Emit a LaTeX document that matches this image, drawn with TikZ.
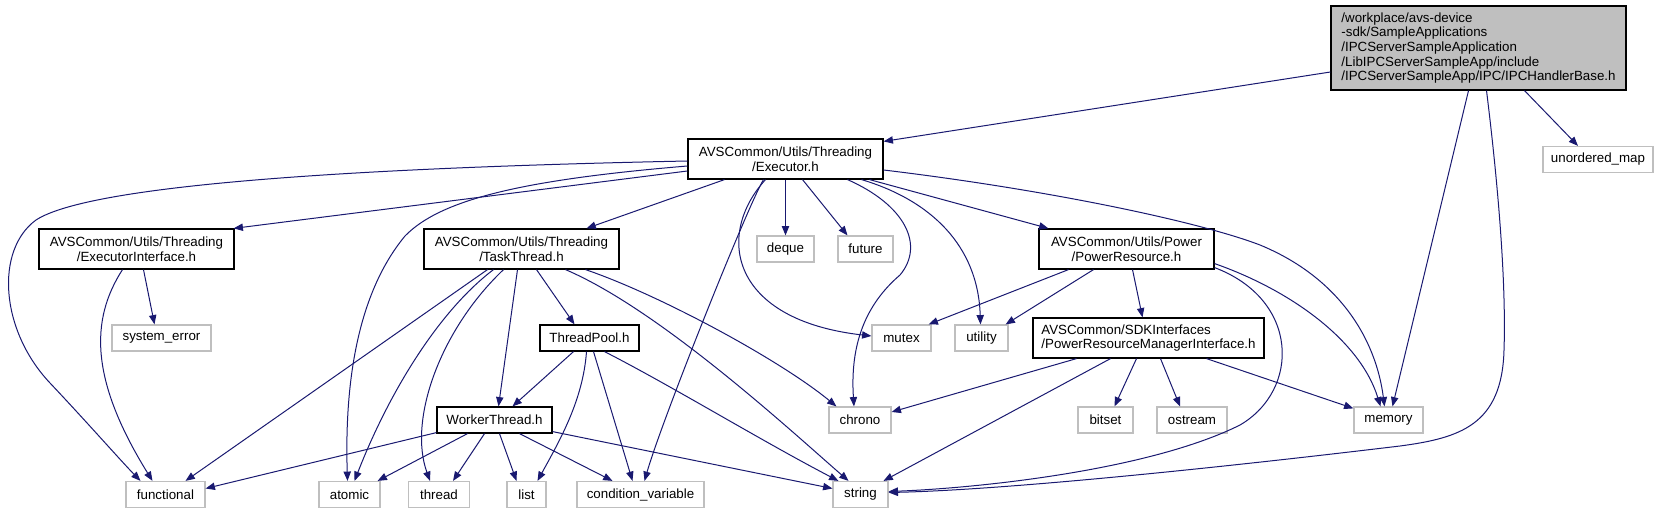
\documentclass[tikz,border=0pt]{standalone}
\usepackage{fontspec}
\setmainfont{Liberation Sans}
\usetikzlibrary{arrows.meta, calc}
\definecolor{edgeB}{RGB}{25,25,112}
\definecolor{boxG}{RGB}{191,191,191}

\begin{document}
\begin{tikzpicture}[x=0.75pt, y=-0.75pt,
  every node/.style={font=\fontsize{10}{11}\selectfont, inner sep=0pt},
  bw/.style={minimum width=#1*0.75pt},
  hdr/.style={draw=black, line width=0.9pt, fill=white, align=center, minimum height=30pt},
  sys/.style={draw=boxG, line width=0.9pt, fill=white, minimum height=19.5pt},
  dep/.style={draw=edgeB, line width=0.75pt, -{Triangle[length=7pt, width=5.5pt]}}]
\useasboundingbox (0,0) rectangle (1658,513);
% ===== project headers =====
\node[hdr, fill=boxG, align=left, bw=295, minimum height=63pt] (root) at (1478.5,48)
  {/workplace/avs-device\\-sdk/SampleApplications\\/IPCServerSampleApplication\\/LibIPCServerSampleApp/include\\/IPCServerSampleApp/IPC/IPCHandlerBase.h};
\node[hdr, bw=195] (exec) at (785.5,159) {AVSCommon/Utils/Threading\\/Executor.h};
\node[hdr, bw=195] (execif) at (136.5,249) {AVSCommon/Utils/Threading\\/ExecutorInterface.h};
\node[hdr, bw=195] (task) at (521.5,249) {AVSCommon/Utils/Threading\\/TaskThread.h};
\node[hdr, bw=175] (pwr) at (1126.5,249) {AVSCommon/Utils/Power\\/PowerResource.h};
\node[hdr, bw=99, minimum height=19.5pt] (tpool) at (589.5,338) {ThreadPool.h};
\node[hdr, bw=231, align=left] (pwrmgr) at (1148.5,338) {AVSCommon/SDKInterfaces\\/PowerResourceManagerInterface.h};
\node[hdr, bw=115, minimum height=19.5pt] (worker) at (494.5,420) {WorkerThread.h};
% ===== system headers (name/x/y/width/label) =====
\foreach \nm/\cx/\cy/\w/\txt in {umap/1598/159.5/110/unordered\_map, deque/785.5/249/57/deque,
  future/865.5/249/55/future, syserr/161.5/338/99/system\_error, mutex/901.5/338/59/mutex,
  utility/981.5/338/53/utility, chrono/860/420/62/chrono, bitset/1105.5/420/55/bitset,
  ostream/1192/420/70/ostream, memory/1388.5/420/69/memory, functional/165.5/494.5/79/functional,
  atomic/349.5/494.5/61/atomic, thread/439/494.5/61/thread, list/526.5/494.5/39/list,
  condvar/640.5/494.5/127/condition\_variable, string/860.5/494.5/55/string}{
  \node[sys, bw=\w] (\nm) at (\cx,\cy) {\txt};
}
% ===== from IPCHandlerBase.h =====
\draw[dep] ($(root.west)+(0,24)$) -- ($(exec.north east)+(0,3)$);
\draw[dep] ($(root.south)+(-10,0)$) -- ($(memory.north)+(4,0)$);
\draw[dep] ($(root.south)+(8,0)$) .. controls (1500,200) and (1506,290) .. (1504,350)
  .. controls (1502,425) and (1460,438) .. (1400,446)
  .. controls (1200,470) and (1000,490) .. ($(string.east)+(0,-2)$);
\draw[dep] ($(root.south)+(46,0)$) -- ($(umap.north)+(-20,0)$);
% ===== from Executor.h =====
\draw[dep] ($(exec.west)+(0,2)$) .. controls (350,168) and (90,185) .. (36,220)
  .. controls (-5,250) and (0,330) .. (50,383)
  .. controls (85,420) and (122,462) .. ($(functional.north)+(-25,0)$);
\draw[dep] ($(exec.west)+(0,12)$) -- ($(execif.north east)+(-1,0)$);
\draw[dep] ($(exec.west)+(0,7)$) .. controls (520,180) and (440,200) .. (405,236)
  .. controls (352,300) and (345,400) .. ($(atomic.north)+(-2,0)$);
\draw[dep] ($(exec.south)+(-61,0)$) -- ($(task.north)+(65,0)$);
\draw[dep] ($(exec.south)+(-22,0)$) .. controls (748,205) and (662,420) .. ($(condvar.north)+(4,0)$);
\draw[dep] ($(exec.south)+(-20,0)$) .. controls (715,235) and (730,320) .. ($(mutex.west)+(0,-2)$);
\draw[dep] (exec.south) -- (deque.north);
\draw[dep] ($(exec.south)+(17,0)$) -- ($(future.north)+(-18,0)$);
\draw[dep] ($(exec.south)+(62,0)$) .. controls (905,205) and (925,245) .. (900,275)
  .. controls (865,305) and (850,345) .. ($(chrono.north)+(-6,0)$);
\draw[dep] ($(exec.south)+(76,0)$) .. controls (930,200) and (978,245) .. ($(utility.north)+(-1,0)$);
\draw[dep] ($(exec.south)+(84,0)$) -- ($(pwr.north west)+(10,0)$);
\draw[dep] ($(exec.east)+(0,11)$) .. controls (1050,190) and (1200,222) .. (1260,245)
  .. controls (1340,278) and (1376,340) .. ($(memory.north)+(-4,0)$);
% ===== from ExecutorInterface.h =====
\draw[dep] ($(execif.south)+(7,0)$) -- ($(syserr.north)+(-7,0)$);
\draw[dep] ($(execif.south)+(-14,0)$) .. controls (90,320) and (90,380) .. ($(functional.north)+(-13,0)$);
% ===== from TaskThread.h =====
\draw[dep] ($(task.south)+(-34,0)$) -- ($(functional.north)+(20,0)$);
\draw[dep] ($(task.south)+(-28,0)$) .. controls (440,310) and (390,390) .. ($(atomic.north)+(5,0)$);
\draw[dep] ($(task.south)+(-18,0)$) .. controls (440,330) and (408,420) .. ($(thread.north)+(-9,0)$);
\draw[dep] ($(task.south)+(-4,0)$) -- ($(worker.north)+(4,0)$);
\draw[dep] ($(task.south)+(15,0)$) -- ($(tpool.north)+(-15,0)$);
\draw[dep] ($(task.south)+(44,0)$) .. controls (660,310) and (790,430) .. ($(string.north)+(-12,0)$);
\draw[dep] ($(task.south)+(64,0)$) .. controls (660,295) and (780,360) .. ($(chrono.north west)+(8,0)$);
% ===== from ThreadPool.h =====
\draw[dep] ($(tpool.south)+(-16,0)$) -- ($(worker.north)+(18,0)$);
\draw[dep] ($(tpool.south)+(-3,0)$) .. controls (583,400) and (560,440) .. ($(list.north)+(11,0)$);
\draw[dep] ($(tpool.south)+(4,0)$) -- ($(condvar.north)+(-8,0)$);
\draw[dep] ($(tpool.south)+(15,0)$) .. controls (670,385) and (760,440) .. ($(string.north west)+(6,0)$);
% ===== from WorkerThread.h =====
\draw[dep] ($(worker.south west)+(0,-1)$) -- ($(functional.east)+(0,-6)$);
\draw[dep] ($(worker.south)+(-27,0)$) -- ($(atomic.north east)+(-3,0)$);
\draw[dep] ($(worker.south)+(-10,0)$) -- ($(thread.north)+(14,0)$);
\draw[dep] ($(worker.south)+(5,0)$) -- ($(list.north)+(-10,0)$);
\draw[dep] ($(worker.south)+(25,0)$) -- ($(condvar.north)+(-28,0)$);
\draw[dep] ($(worker.south east)+(0,-2)$) -- ($(string.west)+(0,-6)$);
% ===== from PowerResource.h =====
\draw[dep] ($(pwr.south)+(-58,0)$) -- ($(mutex.north east)+(-3,0)$);
\draw[dep] ($(pwr.south)+(-33,0)$) -- ($(utility.north east)+(-3,0)$);
\draw[dep] ($(pwr.south)+(6,0)$) -- ($(pwrmgr.north)+(-6,0)$);
\draw[dep] ($(pwr.south east)+(0,-2)$) .. controls (1300,300) and (1300,390) .. (1240,425)
  .. controls (1150,470) and (980,488) .. ($(string.east)+(0,-3)$);
\draw[dep] ($(pwr.south east)+(0,-6)$) .. controls (1290,290) and (1360,340) .. ($(memory.north)+(-8,0)$);
% ===== from PowerResourceManagerInterface.h =====
\draw[dep] ($(pwrmgr.south)+(-72,0)$) -- ($(chrono.east)+(0,-8)$);
\draw[dep] ($(pwrmgr.south)+(-38,0)$) -- ($(string.north)+(23,0)$);
\draw[dep] ($(pwrmgr.south)+(-12,0)$) -- ($(bitset.north)+(9,0)$);
\draw[dep] ($(pwrmgr.south)+(12,0)$) -- ($(ostream.north)+(-12,0)$);
\draw[dep] ($(pwrmgr.south)+(58,0)$) -- ($(memory.north west)+(0,2)$);
\end{tikzpicture}
\end{document}
